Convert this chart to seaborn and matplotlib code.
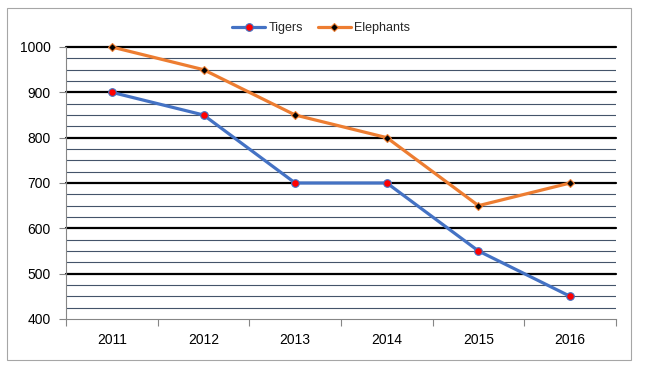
import pandas as pd
import numpy as np
import matplotlib
matplotlib.use('Agg')
import matplotlib.pyplot as plt
import seaborn as sns
from matplotlib.patches import Rectangle
from matplotlib.ticker import MultipleLocator, FixedLocator

years = ['2011', '2012', '2013', '2014', '2015', '2016']
tigers = [900, 850, 700, 700, 550, 450]
elephants = [1000, 950, 850, 800, 650, 700]

sns.set_theme(style='white')
plt.rcParams['font.family'] = ['Liberation Sans', 'DejaVu Sans']

df = pd.DataFrame({'Year': years, 'Tigers': tigers, 'Elephants': elephants})
df['pos'] = np.arange(len(years))

fig = plt.figure(figsize=(6.49, 3.69), dpi=100)
ax = fig.add_axes([66 / 649, 1 - 319 / 369, (616 - 66) / 649, (319 - 47) / 369])

# gridlines first so they sit under the lines
ax.set_ylim(400, 1000)
ax.set_xlim(-0.5, 5.5)
ax.yaxis.set_major_locator(MultipleLocator(100))
ax.yaxis.set_minor_locator(MultipleLocator(25))
ax.grid(which='minor', axis='y', color='#44546a', linewidth=0.8)
ax.grid(which='major', axis='y', color='black', linewidth=1.6)
ax.set_axisbelow(True)

sns.lineplot(data=df, x='pos', y='Tigers', ax=ax, color='#4472c4', linewidth=2.3,
             marker='o', markersize=5.5, markerfacecolor='red',
             markeredgecolor='#4472c4', markeredgewidth=0.8, label='Tigers',
             clip_on=False)
sns.lineplot(data=df, x='pos', y='Elephants', ax=ax, color='#ed7d31', linewidth=2.3,
             marker='D', markersize=4.5, markerfacecolor='black',
             markeredgecolor='#ed7d31', markeredgewidth=0.8, label='Elephants',
             clip_on=False)

ax.set_xticks(df['pos'])
ax.set_xticklabels(years)
ax.xaxis.set_minor_locator(FixedLocator(np.arange(-0.5, 6, 1)))
ax.tick_params(axis='x', which='major', length=0, pad=10, labelsize=10)
ax.tick_params(axis='x', which='minor', length=5, width=0.8, direction='out',
               bottom=True)
ax.tick_params(axis='y', which='major', length=5, width=0.8, left=True,
               direction='out', labelsize=10, pad=6)
ax.tick_params(axis='y', which='minor', length=0)
ax.tick_params(axis='both', which='both', colors='#868686', labelcolor='black')
ax.set_xlabel('')
ax.set_ylabel('')

fig.canvas.draw()
for line, val in zip(ax.get_ygridlines(), ax.get_yticks()):
    line.set_clip_on(False)
    if val <= 400:
        line.set_visible(False)

for side in ['top', 'right']:
    ax.spines[side].set_visible(False)
for side in ['left', 'bottom']:
    ax.spines[side].set_color('#868686')
    ax.spines[side].set_linewidth(0.8)

ax.legend(loc='center', bbox_to_anchor=(0.495, 1 - 28 / 369), bbox_transform=fig.transFigure,
          ncol=2, frameon=False, fontsize=9, handlelength=2.6, columnspacing=1.2,
          handletextpad=0.3)

fig.add_artist(Rectangle((7 / 649, 1 - 360 / 369), (631 - 7) / 649, (360 - 8) / 369,
                         transform=fig.transFigure, fill=False, edgecolor='#a6a6a6',
                         linewidth=0.8))

fig.savefig('out.png', dpi=100)
